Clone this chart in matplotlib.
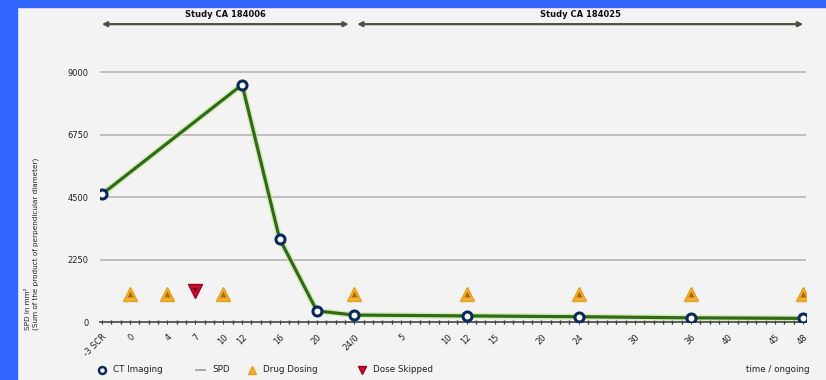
import matplotlib
matplotlib.use("Agg")
import matplotlib.pyplot as plt
from matplotlib.lines import Line2D
from matplotlib.patches import Rectangle

# ---- data ----
ct_weeks = [-3, 12, 16, 20, 24, 36, 48, 60, 72]
spd_values = [4600, 8550, 3000, 400, 250, 220, 190, 150, 130]

dosing_weeks = [0, 4, 10, 24, 36, 48, 60, 72]
dosing_level = [1000, 1000, 1000, 1000, 1000, 1000, 1000, 1000]
skipped_weeks = [7]
skipped_level = [1100]

tick_weeks = [-3, 0, 4, 7, 10, 12, 16, 20, 24, 29, 34, 36, 39, 44, 48, 54, 60, 64, 69, 72]
tick_labels = ["-3 SCR", "0", "4", "7", "10", "12", "16", "20", "24/0", "5", "10", "12",
               "15", "20", "24", "30", "36", "40", "45", "48"]
y_ticks = [0, 2250, 4500, 6750, 9000]

study_names = ["Study CA 184006", "Study CA 184025"]
study_spans = [(-3, 23.4), (24.3, 72)]

# ---- figure ----
W, H = 826, 380
fig = plt.figure(figsize=(W / 100, H / 100), dpi=100, facecolor="#F3F3F3")
ax = fig.add_axes([100 / W, 1 - 322 / H, 706 / W, 272 / H])
ax.set_facecolor("#F3F3F3")

ax.set_xlim(-3.2, 72.3)
ax.set_ylim(0, 9800)

# grid
for yv in y_ticks[1:]:
    ax.axhline(yv, color="#B0B0B0", lw=1.1, zorder=1)

# SPD line with halo
ax.plot(ct_weeks, spd_values, color="#C6E6A0", lw=4.5, alpha=0.6, zorder=2, solid_capstyle="round")
ax.plot(ct_weeks, spd_values, color="#2F6A14", lw=2.3, zorder=3)
ax.plot(ct_weeks, spd_values, ls="none", marker="o", ms=6.5, mfc="white", mec="#0B2A5C", mew=2.2, zorder=4)

# dosing
ax.plot(dosing_weeks, dosing_level, ls="none", marker="^", ms=10, mfc="#F0B030", mec="#E8A020",
        mew=1, zorder=4)
ax.plot(dosing_weeks, dosing_level, ls="none", marker="^", ms=4, mfc="#B06A00", mec="none", zorder=5)
ax.plot(skipped_weeks, skipped_level, ls="none", marker="v", ms=10, mfc="#C8102E", mec="#A00020",
        mew=1, zorder=4)
ax.plot(skipped_weeks, [v + 40 for v in skipped_level], ls="none", marker="v", ms=3.5, mfc="#700010",
        mec="none", zorder=5)

# axes style
for s in ["top", "right", "left"]:
    ax.spines[s].set_visible(False)
ax.spines["bottom"].set_color("#444444")
ax.spines["bottom"].set_linewidth(1.2)
ax.set_yticks(y_ticks)
ax.set_yticklabels([str(v) for v in y_ticks], fontsize=6, color="#222222")
ax.tick_params(axis="y", length=0, pad=8)

ax.set_xticks(tick_weeks)
ax.set_xticklabels(tick_labels, rotation=45, ha="right", rotation_mode="anchor",
                   fontsize=6, color="#222222")
ax.set_xticks(range(-3, 73), minor=True)
ax.tick_params(axis="x", which="major", length=3, direction="inout", color="#333333", pad=6)
ax.tick_params(axis="x", which="minor", length=3, direction="inout", color="#333333", width=1)

# y label
fig.text(32 / W, 1 - 330 / H, "SPD in mm²\n(Sum of the product of perpendicular diameter)",
         rotation=90, va="bottom", ha="center", multialignment="left", fontsize=5.2, color="#222222")

# study arrows
for name, (a, b) in zip(study_names, study_spans):
    ax.annotate("", xy=(a, 1.095), xytext=(b, 1.095), xycoords=("data", "axes fraction"),
                textcoords=("data", "axes fraction"),
                arrowprops=dict(arrowstyle="<|-|>", color="#4A4F40", lw=1.6,
                                mutation_scale=7, shrinkA=0, shrinkB=0), annotation_clip=False)
    ax.text((a + b) / 2, 1.113, name, transform=ax.get_xaxis_transform(), ha="center",
            va="bottom", fontsize=6, fontweight="bold", color="#111111", clip_on=False)

# legend (manual)
ly = 1 - 370 / H
fig.add_artist(Line2D([102 / W], [ly], marker="o", ms=5, mfc="white", mec="#0B2A5C", mew=1.8,
                      transform=fig.transFigure))
fig.text(113 / W, ly, "CT Imaging", fontsize=6.3, va="center", color="#222222")
fig.add_artist(Line2D([196 / W, 205 / W], [ly, ly], color="#999999", lw=1.2, transform=fig.transFigure))
fig.text(212 / W, ly, "SPD", fontsize=6.3, va="center", color="#222222")
fig.add_artist(Line2D([252 / W], [ly], marker="^", ms=6, mfc="#F0B030", mec="#E8A020",
                      transform=fig.transFigure))
fig.text(263 / W, ly, "Drug Dosing", fontsize=6.3, va="center", color="#222222")
fig.add_artist(Line2D([362 / W], [ly], marker="v", ms=6, mfc="#C8102E", mec="#A00020",
                      transform=fig.transFigure))
fig.text(373 / W, ly, "Dose Skipped", fontsize=6.3, va="center", color="#222222")
fig.text(810 / W, ly, "time / ongoing", fontsize=6.3, va="center", ha="right", color="#222222")

# blue frame
fig.add_artist(Rectangle((0, 0), 17 / W, 1, transform=fig.transFigure, color="#3366FF", zorder=10))
fig.add_artist(Rectangle((0, 1 - 7 / H), 1, 7 / H, transform=fig.transFigure, color="#3366FF", zorder=10))

fig.savefig("out.png", dpi=100, facecolor=fig.get_facecolor())
